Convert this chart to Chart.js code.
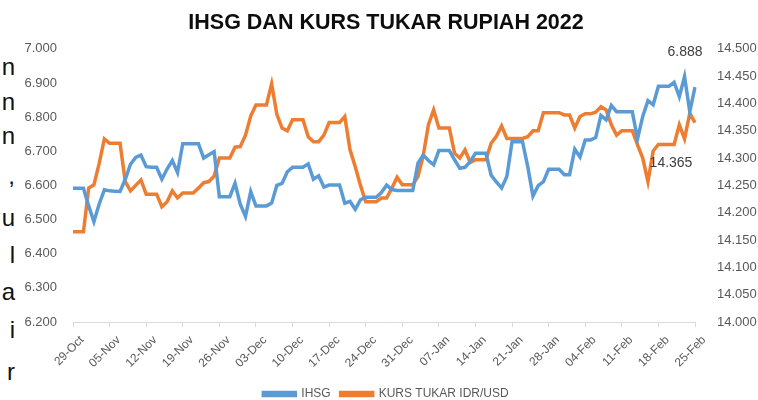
<!DOCTYPE html>
<html>
<head>
<meta charset="utf-8">
<script src="https://cdn.jsdelivr.net/npm/chart.js@4.4.0/dist/chart.umd.min.js"></script>
<style>
  html, body { margin: 0; padding: 0; background: #fff; overflow: hidden; }
  #wrap { position: absolute; left: 0; top: 0; width: 758px; height: 410px; }
  .side { position: absolute; right: 743px; font: 24px 'Liberation Sans', Arial, sans-serif; color: #111; line-height: 24px; }
</style>
</head>
<body>
<div class="side" style="top:55px">n</div>
<div class="side" style="top:90px">n</div>
<div class="side" style="top:124px">n</div>
<div class="side" style="top:164px">,</div>
<div class="side" style="top:206px">u</div>
<div class="side" style="top:243px">l</div>
<div class="side" style="top:280px">a</div>
<div class="side" style="top:318px">i</div>
<div class="side" style="top:360px">r</div>
<div id="wrap"><canvas id="chart"></canvas></div>
<script>
// harian, 29 Okt 2021 - 25 Feb 2022
const startDate = Date.UTC(2021, 9, 29);
const dayCount = 120;
const months = ['Jan','Feb','Mar','Apr','May','Jun','Jul','Aug','Sep','Oct','Nov','Dec'];

const tickLabels = ['29-Oct','05-Nov','12-Nov','19-Nov','26-Nov','03-Dec','10-Dec','17-Dec','24-Dec',
  '31-Dec','07-Jan','14-Jan','21-Jan','28-Jan','04-Feb','11-Feb','18-Feb','25-Feb'];

const ihsg = [
  6592,6592,6592,6540,6494,6545,6587,6584,6583,6582,
  6618,6662,6682,6689,6655,6653,6653,6618,6648,6673,
  6638,6722,6722,6722,6722,6680,6690,6699,6567,6567,
  6567,6606,6545,6509,6582,6540,6540,6540,6548,6600,
  6606,6640,6653,6653,6653,6663,6618,6628,6595,6601,
  6601,6601,6548,6553,6530,6558,6565,6565,6565,6579,
  6601,6588,6585,6585,6585,6585,6665,6689,6673,6660,
  6702,6702,6702,6675,6650,6653,6670,6694,6694,6694,
  6630,6610,6592,6626,6728,6728,6728,6655,6569,6599,
  6611,6647,6647,6647,6631,6631,6706,6683,6733,6733,
  6740,6805,6792,6834,6816,6816,6816,6816,6736,6802,
  6848,6836,6890,6890,6890,6902,6860,6919,6816,6888
];

const kurs = [
  14165,14165,14165,14245,14251,14290,14335,14327,14327,14327,
  14257,14240,14250,14260,14234,14234,14234,14211,14220,14240,
  14227,14236,14236,14236,14245,14255,14257,14267,14300,14300,
  14300,14320,14321,14342,14377,14397,14397,14397,14436,14380,
  14355,14350,14370,14370,14370,14339,14330,14330,14342,14365,
  14365,14365,14376,14315,14284,14250,14220,14220,14220,14227,
  14227,14245,14265,14251,14251,14251,14266,14304,14361,14388,
  14355,14355,14355,14309,14300,14315,14292,14297,14297,14297,
  14327,14340,14359,14336,14336,14336,14336,14339,14350,14350,
  14383,14383,14383,14383,14379,14379,14355,14376,14381,14381,
  14384,14394,14388,14361,14342,14350,14350,14350,14324,14300,
  14257,14313,14325,14325,14325,14325,14361,14335,14382,14365
];

let labels = [];
for (let i = 0; i < dayCount; i++) {
  const d = new Date(startDate + i * 86400000);
  labels[i] = String(d.getUTCDate()).padStart(2, '0') + '-' + months[d.getUTCMonth()];
}

// format angka ala Indonesia: 6.888
function fmt(v) {
  return Math.round(v).toString().replace(/\B(?=(\d{3})+(?!\d))/g, '.');
}

const FONT = "'Liberation Sans', Arial, sans-serif";
Chart.defaults.font.family = FONT;
Chart.defaults.font.size = 12;
Chart.defaults.color = '#595959';

const lastLabels = {
  id: 'lastLabels',
  afterDatasetsDraw(chart) {
    const ctx = chart.ctx;
    const p0 = chart.getDatasetMeta(0).data[ihsg.length - 1];
    const p1 = chart.getDatasetMeta(1).data[kurs.length - 1];
    ctx.save();
    ctx.font = '14px ' + FONT;
    ctx.fillStyle = '#404040';
    ctx.textAlign = 'center';
    ctx.textBaseline = 'middle';
    ctx.fillText(fmt(ihsg[ihsg.length - 1]), p0.x - 10, p0.y - 35);
    ctx.fillText(fmt(kurs[kurs.length - 1]), p1.x - 24, p1.y + 41);
    ctx.restore();
  }
};

const myChart = new Chart(document.getElementById('chart'), {
  type: 'line',
  data: {
    labels: labels,
    datasets: [{
      label: 'IHSG',
      data: ihsg,
      borderColor: '#5B9BD5',
      backgroundColor: '#5B9BD5',
      borderWidth: 3.5,
      pointRadius: 0,
      tension: 0,
      yAxisID: 'y'
    }, {
      label: 'KURS TUKAR IDR/USD',
      data: kurs,
      borderColor: '#ED7D31',
      backgroundColor: '#ED7D31',
      borderWidth: 3.5,
      pointRadius: 0,
      tension: 0,
      yAxisID: 'y1'
    }]
  },
  options: {
    responsive: true,
    maintainAspectRatio: false,
    animation: false,
    layout: { padding: { left: 14 } },
    plugins: {
      title: {
        display: true,
        text: 'IHSG DAN KURS TUKAR RUPIAH 2022',
        color: '#0d0d0d',
        font: { size: 21.5, weight: 'bold' },
        padding: { top: 10, bottom: 13 }
      },
      legend: {
        position: 'bottom',
        labels: { boxWidth: 32, boxHeight: 3, padding: 10, color: '#595959', font: { size: 12 } }
      },
      tooltip: { enabled: false }
    },
    scales: {
      x: {
        afterBuildTicks: s => { s.ticks = s.ticks.filter(t => t.value % 7 === 0); },
        afterFit: s => { s.height = 56; },
        ticks: {
          autoSkip: false, minRotation: 45, maxRotation: 45, padding: 6, labelOffset: 9,
          callback: (v, i) => tickLabels[i],
          font: { size: 12 }
        },
        grid: { drawOnChartArea: false, drawTicks: true, tickLength: 5, color: '#D9D9D9' },
        border: { display: true, color: '#D9D9D9' }
      },
      y: {
        position: 'left',
        min: 6200, max: 7000,
        afterFit: s => { s.width = 59; },
        ticks: { stepSize: 100, padding: 16, callback: v => fmt(v), font: { size: 13 } },
        grid: { display: false, drawTicks: false },
        border: { display: false }
      },
      y1: {
        position: 'right',
        min: 14000, max: 14500,
        afterFit: s => { s.width = 63; },
        ticks: { stepSize: 50, padding: 22, callback: v => fmt(v), font: { size: 13 } },
        grid: { display: false, drawTicks: false },
        border: { display: false }
      }
    }
  },
  plugins: [lastLabels]
});
</script>
</body>
</html>
